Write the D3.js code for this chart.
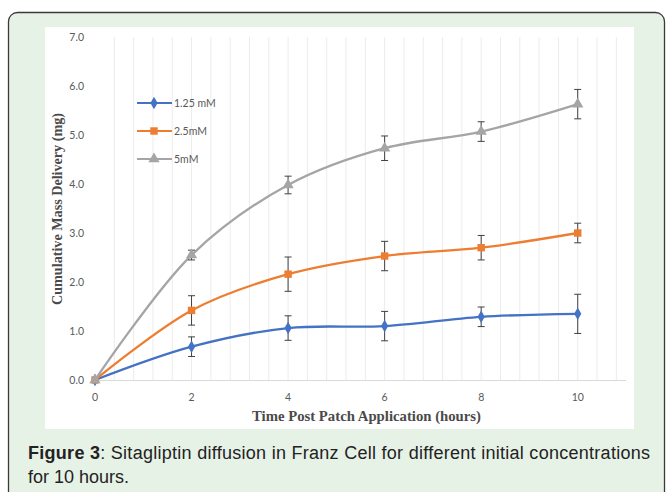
<!DOCTYPE html>
<html><head><meta charset="utf-8">
<script src="https://cdn.jsdelivr.net/npm/d3@7"></script>
<style>
html,body{margin:0;padding:0;background:#fff;}
svg{display:block;}
</style></head>
<body>
<svg id="chart" width="667" height="492"></svg>
<script>
// ---- data ----
const hours = [0, 2, 4, 6, 8, 10];
const seriesNames = ["1.25 mM", "2.5mM", "5mM"];
const conc125 = [0, 0.68, 1.06, 1.10, 1.29, 1.35];
const err125  = [0, 0.20, 0.25, 0.30, 0.20, 0.40];
const conc25  = [0, 1.42, 2.16, 2.53, 2.70, 3.00];
const err25   = [0, 0.30, 0.35, 0.30, 0.25, 0.20];
const conc5   = [0, 2.55, 3.98, 4.73, 5.07, 5.63];
const err5    = [0, 0.10, 0.18, 0.25, 0.20, 0.30];
const yTicks = [0, 1, 2, 3, 4, 5, 6, 7];
const xTicks = [0, 2, 4, 6, 8, 10];
const xLabel = "Time Post Patch Application (hours)";
const yLabel = "Cumulative Mass Delivery (mg)";
const captionBold = "Figure 3";
const captionRest = ": Sitagliptin diffusion in Franz Cell for different initial concentrations";
const captionLine2 = "for 10 hours.";

const colors = ["#4472C4", "#ED7D31", "#A5A5A5"];
const markers = [d3.symbolDiamond, d3.symbolSquare, d3.symbolTriangle];
const markerSizes = [45, 55, 55];

const svg = d3.select("#chart");

// outer box
svg.append("rect").attr("x", 8.5).attr("y", 12.5).attr("width", 656).attr("height", 500)
  .attr("rx", 9).attr("fill", "#e7f2e6").attr("stroke", "#3a3a3a").attr("stroke-width", 1.3);
// white panel
svg.append("rect").attr("x", 45).attr("y", 27).attr("width", 589).attr("height", 402).attr("fill", "#fff");

const x = d3.scaleLinear().domain([0, 11]).range([95, 626]);
const y = d3.scaleLinear().domain([0, 7]).range([380, 37]);

// minor vertical gridlines
const grid = d3.range(0.4, 10.81, 0.4);
svg.append("g").selectAll("line").data(grid).join("line")
  .attr("x1", d => x(d)).attr("x2", d => x(d))
  .attr("y1", y(7)).attr("y2", y(0))
  .attr("stroke", "#ececec").attr("stroke-width", 1);

// x axis line
svg.append("line").attr("x1", x(0)).attr("x2", x(11)).attr("y1", y(0)+0.5).attr("y2", y(0)+0.5)
  .attr("stroke", "#d9d9d9").attr("stroke-width", 1);

// tick labels
const tickFont = "Lato, 'Open Sans', sans-serif";
svg.append("g").selectAll("text").data(yTicks).join("text")
  .attr("x", 84).attr("y", d => y(d)).attr("dy", "0.35em")
  .attr("text-anchor", "end").attr("font-family", tickFont).attr("font-size", 10.5)
  .attr("fill", "#595959").text(d => d.toFixed(1));
svg.append("g").selectAll("text").data(xTicks).join("text")
  .attr("x", d => x(d)).attr("y", 397).attr("dy", "0.35em")
  .attr("text-anchor", "middle").attr("font-family", tickFont).attr("font-size", 10.5)
  .attr("fill", "#595959").text(d => d);

// axis titles
const serif = "'Liberation Serif', 'DejaVu Serif', serif";
svg.append("text").attr("x", 252).attr("y", 421)
  .attr("textLength", 229).attr("lengthAdjust", "spacingAndGlyphs")
  .attr("font-family", serif).attr("font-weight", "bold")
  .attr("font-size", 14).attr("fill", "#4a4a4a").text(xLabel);
svg.append("text").attr("transform", "translate(62,305) rotate(-90)")
  .attr("textLength", 192).attr("lengthAdjust", "spacingAndGlyphs")
  .attr("font-family", serif).attr("font-weight", "bold")
  .attr("font-size", 14).attr("fill", "#4a4a4a").text(yLabel);

// series
const series = [
  {name: seriesNames[0], vals: conc125, errs: err125},
  {name: seriesNames[1], vals: conc25, errs: err25},
  {name: seriesNames[2], vals: conc5, errs: err5}
];
const line = d3.line().x(d => x(d[0])).y(d => y(d[1])).curve(d3.curveCatmullRom.alpha(0.5));

series.forEach((s, i) => {
  const pts = hours.map((h, j) => [h, s.vals[j], s.errs[j]]);
  const g = svg.append("g");
  g.append("path").datum(pts).attr("d", line).attr("fill", "none")
    .attr("stroke", colors[i]).attr("stroke-width", 2.3);
  // error bars
  const eb = g.selectAll("g.eb").data(pts.filter(p => p[2] > 0)).join("g");
  eb.append("line").attr("x1", d => x(d[0])).attr("x2", d => x(d[0]))
    .attr("y1", d => y(d[1] - d[2])).attr("y2", d => y(d[1] + d[2]))
    .attr("stroke", "#404040").attr("stroke-width", 1);
  [-1, 1].forEach(sg => {
    eb.append("line").attr("x1", d => x(d[0]) - 3.5).attr("x2", d => x(d[0]) + 3.5)
      .attr("y1", d => y(d[1] + sg * d[2])).attr("y2", d => y(d[1] + sg * d[2]))
      .attr("stroke", "#404040").attr("stroke-width", 1);
  });
  g.selectAll("path.m").data(pts).join("path").attr("class", "m")
    .attr("transform", d => `translate(${x(d[0])},${y(d[1])})`)
    .attr("d", d3.symbol().type(markers[i]).size(markerSizes[i]))
    .attr("fill", colors[i]);
});

// legend
const legY = [103, 131, 159];
series.forEach((s, i) => {
  const lg = svg.append("g");
  lg.append("line").attr("x1", 137).attr("x2", 172).attr("y1", legY[i]).attr("y2", legY[i])
    .attr("stroke", colors[i]).attr("stroke-width", 2.2);
  lg.append("path").attr("transform", `translate(154,${legY[i]})`)
    .attr("d", d3.symbol().type(markers[i]).size(markerSizes[i])).attr("fill", colors[i]);
  lg.append("text").attr("x", 174).attr("y", legY[i]).attr("dy", "0.35em")
    .attr("font-family", tickFont).attr("font-size", 10.5).attr("fill", "#595959").text(s.name);
});

// caption
const capFont = "'Liberation Sans', Arial, sans-serif";
const cap = svg.append("text").attr("x", 28).attr("y", 459)
  .attr("textLength", 622).attr("lengthAdjust", "spacing")
  .attr("font-family", capFont).attr("font-size", 18).attr("fill", "#222");
cap.append("tspan").attr("font-weight", "bold").text(captionBold);
cap.append("tspan").text(captionRest);
svg.append("text").attr("x", 28).attr("y", 483)
  .attr("font-family", capFont).attr("font-size", 18).attr("fill", "#222")
  .text(captionLine2);
</script>
</body></html>
